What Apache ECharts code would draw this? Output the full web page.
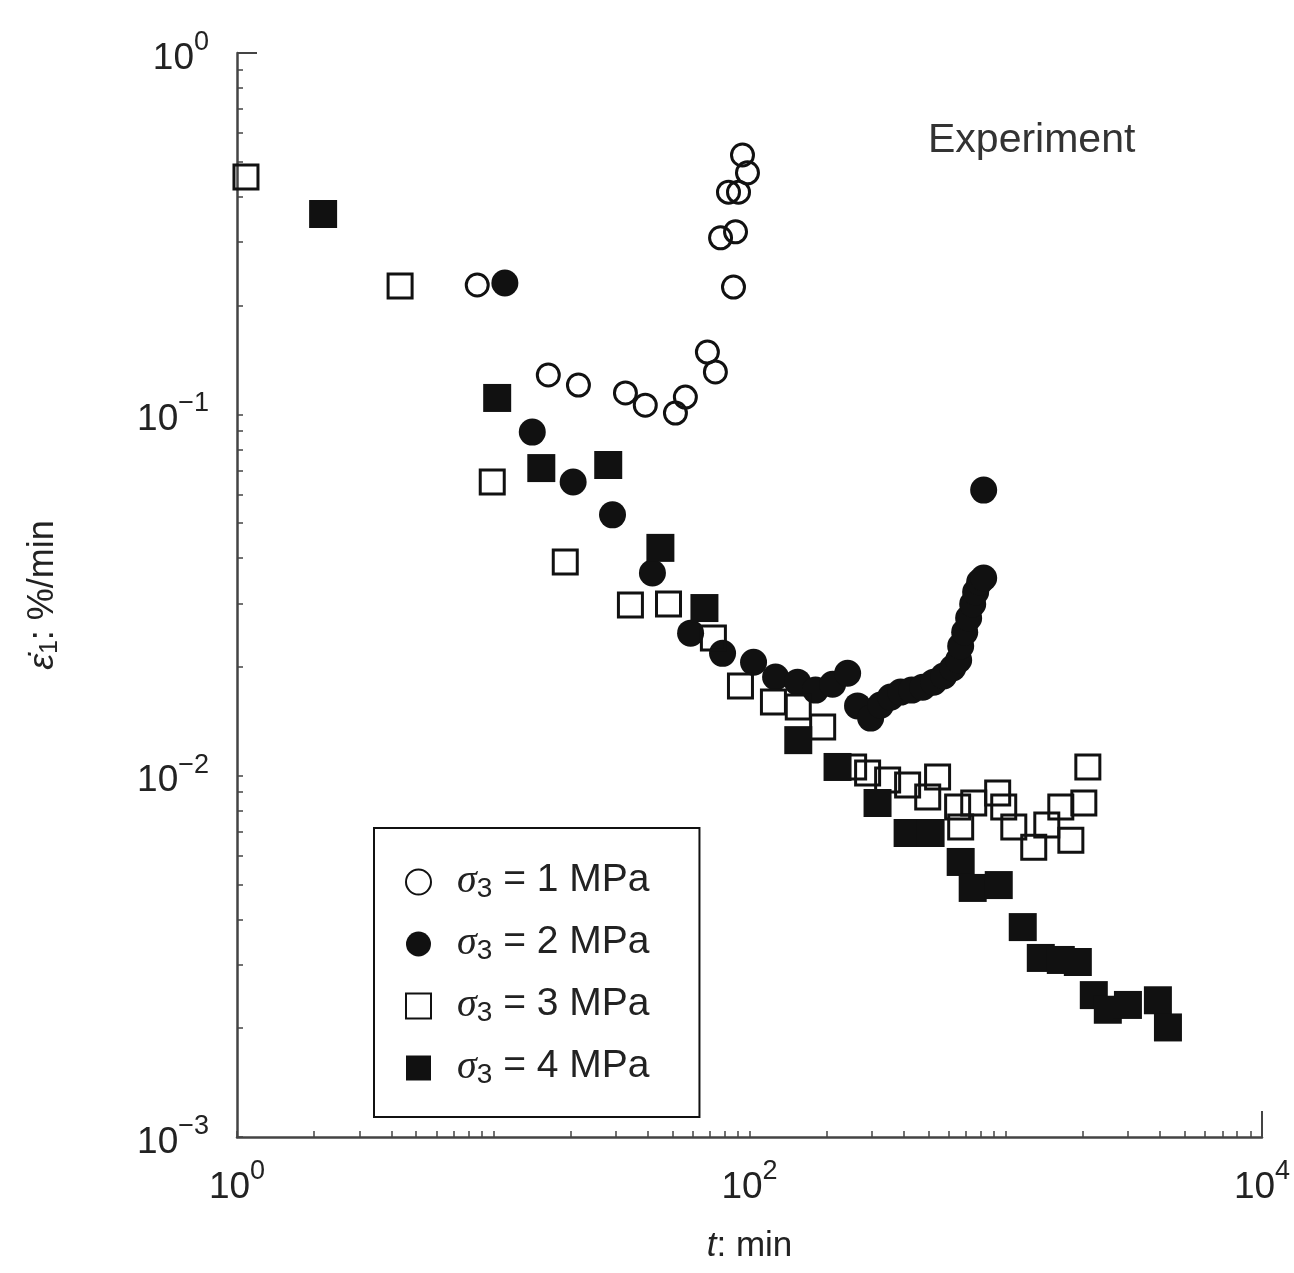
<!DOCTYPE html>
<html>
<head>
<meta charset="utf-8">
<script src="https://cdn.jsdelivr.net/npm/echarts@6/dist/echarts.min.js"></script>
<style>html,body{margin:0;padding:0;background:#fff}#c{width:1294px;height:1273px}</style>
</head>
<body>
<div id="c"></div>
<script>
// ---- data: [t (min), strain rate (%/min)] ----
const s1MPa = [[8.66,0.228],[16.4,0.1285],[21.5,0.1205],[32.8,0.1146],[39.2,0.106],[51.4,0.1008],[56.2,0.1116],[68.5,0.1487],[73.6,0.131],[86.6,0.225],[77.1,0.308],[88.2,0.320],[82.8,0.412],[90.6,0.412],[93.9,0.522],[98.2,0.466]];
const s2MPa = [[11.1,0.2309],[14.2,0.0893],[20.5,0.065],[29.2,0.0527],[41.8,0.0364],[58.9,0.0248],[78.5,0.0218],[103.7,0.0206],[126.4,0.01875],[154,0.01815],[181,0.01725],[211,0.0179],[241.5,0.0192],[264,0.0156],[297,0.01443],[325,0.01568],[355.5,0.0165],[389,0.01703],[429.5,0.01725],[474,0.01758],[523,0.01815],[572.5,0.01887],[621,0.01986],[655,0.0209],[667,0.02284],[691.5,0.02496],[716.5,0.0273],[743,0.02985],[763,0.03223],[791,0.03435],[820,0.03523],[820,0.0617]];
const s3MPa = [[1.084,0.4536],[4.33,0.2265],[9.91,0.065],[19.1,0.039],[34.3,0.02965],[48.3,0.02985],[72.3,0.02404],[92.2,0.0177],[124,0.016],[155,0.01549],[193,0.01363],[254.9,0.01057],[289,0.01017],[346,0.00972],[414,0.00942],[496,0.00873],[542,0.00991],[649,0.00819],[667,0.00721],[750,0.0084],[930,0.00895],[982,0.00819],[1075,0.00721],[1286,0.00634],[1446,0.0073],[1640,0.00819],[1795,0.00663],[2017,0.0084],[2091,0.01057]];
const s4MPa = [[2.168,0.3584],[10.36,0.111],[15.4,0.071],[28.1,0.0724],[44.9,0.0427],[66.7,0.0291],[155,0.01254],[220.6,0.01057],[316,0.0084],[414,0.00694],[509,0.00694],[667,0.00577],[743,0.00489],[939,0.00498],[1165,0.00381],[1370,0.00313],[1640,0.00309],[1911,0.00305],[2206,0.00247],[2502,0.00225],[2998,0.00232],[3924,0.00239],[4295,0.00201]];
const seriesNames = ['1 MPa','2 MPa','3 MPa','4 MPa'];
const xTickLabels = [1, 100, 10000];
const yTickLabels = [0.001, 0.01, 0.1, 1];
const xDecades = [1, 10, 100, 1000];
const yDecades = [0.001, 0.01, 0.1];

function minorTicks(decades, last) {
  const out = [];
  decades.forEach(d => { for (let m = 1; m <= 9; m++) out.push(+(m * d).toPrecision(3)); });
  out.push(last);
  return out;
}
const FONT = 'Liberation Sans';
const INK = '#222';
const AXIS = '#444';
const MARK = '#111';

function expLabel(v) {
  const e = Math.round(Math.log10(v));
  return '{b|10}{s|' + (e < 0 ? '\u2212' + (-e) : e) + '}';
}
const labelRich = {
  b: {fontSize: 37, fontFamily: FONT, color: INK, verticalAlign: 'bottom', lineHeight: 48},
  s: {fontSize: 27, fontFamily: FONT, color: INK, verticalAlign: 'top', lineHeight: 24}
};

const chart = echarts.init(document.getElementById('c'), null, {renderer: 'canvas'});
const symbolStyles = [
  {symbol: 'circle', size: 22, itemStyle: {color: 'rgba(255,255,255,0)', borderColor: MARK, borderWidth: 3, opacity: 1}},
  {symbol: 'circle', size: 27, itemStyle: {color: MARK, borderColor: MARK, borderWidth: 0, opacity: 1}},
  {symbol: 'rect', size: 24, itemStyle: {color: 'rgba(255,255,255,0)', borderColor: MARK, borderWidth: 3, opacity: 1}},
  {symbol: 'rect', size: 28, itemStyle: {color: MARK, borderColor: MARK, borderWidth: 0, opacity: 1}}
];
const dataSets = [s1MPa, s2MPa, s3MPa, s4MPa];

const option = {
  backgroundColor: '#fff',
  animation: false,
  title: {
    text: 'Experiment', left: 928, top: 120, padding: 0,
    textStyle: {fontSize: 41, fontWeight: 'normal', color: '#333', fontFamily: FONT}
  },
  grid: {left: 237, top: 53, right: 32, bottom: 136, containLabel: false},
  legend: {
    orient: 'vertical', left: 374, top: 828,
    padding: [33, 50, 28, 31],
    borderColor: '#111', borderWidth: 2, backgroundColor: '#fff',
    itemWidth: 25, itemHeight: 25, itemGap: 20,
    data: seriesNames,
    formatter: function (name) {
      return '{g|\u03C3}{sub|3}{t| = ' + name + '}';
    },
    textStyle: {
      color: INK,
      rich: {
        g: {fontSize: 40, fontFamily: 'Liberation Serif', fontStyle: 'italic', color: INK, verticalAlign: 'top', lineHeight: 42, padding: [0, 0, 0, 21]},
        sub: {fontSize: 28, fontFamily: FONT, color: INK, verticalAlign: 'bottom', lineHeight: 24},
        t: {fontSize: 39, fontFamily: FONT, color: INK, verticalAlign: 'top', lineHeight: 42}
      }
    }
  },
  xAxis: [{
    type: 'log', logBase: 10, min: 1, max: 10000,
    position: 'bottom',
    name: '{i|t}{n|: min}', nameLocation: 'middle', nameGap: 92,
    nameTextStyle: {rich: {
      i: {fontSize: 35, fontFamily: FONT, fontStyle: 'italic', color: INK},
      n: {fontSize: 35, fontFamily: FONT, color: INK}
    }},
    axisLine: {show: true, lineStyle: {color: AXIS, width: 2.5}},
    axisTick: {show: true, inside: true, length: 6, lineStyle: {color: AXIS, width: 1.5}, customValues: minorTicks(xDecades, 10000)},
    minorTick: {show: false},
    splitLine: {show: false},
    axisLabel: {show: true, margin: 21, customValues: xTickLabels, formatter: expLabel, rich: labelRich}
  }, {
    type: 'log', logBase: 10, min: 1, max: 10000, position: 'bottom', gridIndex: 0,
    axisLine: {show: false}, axisLabel: {show: false}, splitLine: {show: false},
    axisTick: {show: true, inside: true, length: 26, lineStyle: {color: AXIS, width: 2}, customValues: [10000]}
  }],
  yAxis: [{
    type: 'log', logBase: 10, min: 0.001, max: 1,
    position: 'left',
    name: '{e|\u03B5\u0307}{s|1}{n|: %/min}', nameLocation: 'middle', nameGap: 174, nameRotate: 90,
    nameTextStyle: {rich: {
      e: {fontSize: 36, fontFamily: FONT, fontStyle: 'italic', color: INK, verticalAlign: 'top', lineHeight: 38},
      s: {fontSize: 25, fontFamily: FONT, color: INK, verticalAlign: 'bottom', lineHeight: 22},
      n: {fontSize: 36, fontFamily: FONT, color: INK, verticalAlign: 'top', lineHeight: 38}
    }},
    axisLine: {show: true, lineStyle: {color: AXIS, width: 2.5}},
    axisTick: {show: true, inside: true, length: 6, lineStyle: {color: AXIS, width: 1.5}, customValues: minorTicks(yDecades, 1)},
    minorTick: {show: false},
    splitLine: {show: false},
    axisLabel: {show: true, margin: 28, customValues: yTickLabels, formatter: expLabel, rich: labelRich}
  }, {
    type: 'log', logBase: 10, min: 0.001, max: 1, position: 'left', gridIndex: 0,
    axisLine: {show: false}, axisLabel: {show: false}, splitLine: {show: false},
    axisTick: {show: true, inside: true, length: 20, lineStyle: {color: AXIS, width: 2}, customValues: [1]}
  }],
  series: seriesNames.map((n, i) => ({
    name: n, type: 'scatter', xAxisIndex: 0, yAxisIndex: 0,
    symbol: symbolStyles[i].symbol, symbolSize: symbolStyles[i].size,
    itemStyle: symbolStyles[i].itemStyle,
    data: dataSets[i], z: 2 + i
  }))
};
chart.setOption(option);
</script>
</body>
</html>
